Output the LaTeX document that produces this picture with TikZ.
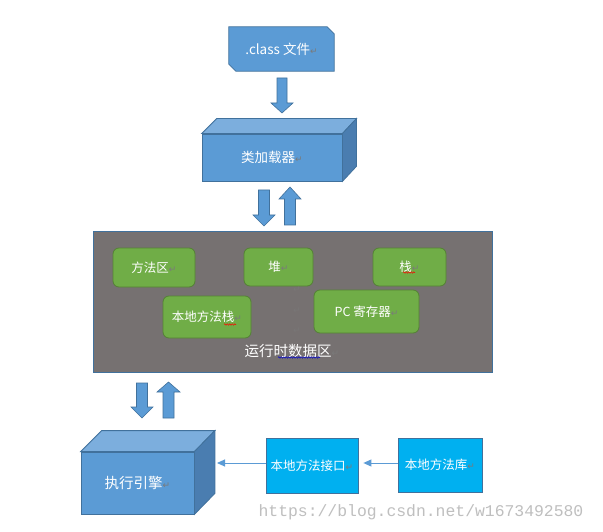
\documentclass[tikz,border=0pt]{standalone}
\usepackage{fontspec}
\newfontfamily\cjk{Noto Sans CJK SC}
\newfontfamily\dvs{DejaVu Sans}
\newfontfamily\wmfont{Liberation Mono}
\usetikzlibrary{decorations.pathmorphing,arrows.meta,calc}
\definecolor{bfill}{HTML}{5B9BD5}
\definecolor{bstroke}{HTML}{41719C}
\definecolor{btop}{HTML}{7CAEDD}
\definecolor{bside}{HTML}{4A7DB0}
\definecolor{rtgray}{HTML}{767171}
\definecolor{gfill}{HTML}{70AD47}
\definecolor{gstroke}{HTML}{548235}
\definecolor{cfill}{HTML}{00B0F0}
\definecolor{retgray}{HTML}{7A7A7A}
\newcommand{\rmk}{{\dvs\fontsize{9}{9}\selectfont\textcolor{retgray}{\char"21B5}}}
\newcommand{\barrow}[6]{\filldraw[barrowstyle] (#1-#5,#2) -- (#1+#5,#2) -- (#1+#5,#3) -- (#1+#6,#3) -- (#1,#4) -- (#1-#6,#3) -- (#1-#5,#3) -- cycle;}
\tikzset{
  barrowstyle/.style={fill=bfill, draw=bstroke, line width=0.6pt},
  txt/.style={text=white, font=\cjk\fontsize{13.5}{13.5}\selectfont, inner sep=0pt},
  cubefront/.style={fill=bfill, draw=bstroke, line width=0.8pt, inner sep=0pt},
  cubetop/.style={fill=btop, draw=bstroke, line width=0.8pt},
  cubeside/.style={fill=bside, draw=bstroke, line width=0.8pt},
  greenbox/.style={fill=gfill, draw=gstroke, line width=0.8pt, rounded corners=6pt, inner sep=0pt, text=white, font=\cjk\fontsize{12.5}{12.5}\selectfont},
  cyanbox/.style={fill=cfill, draw=bstroke, line width=0.8pt, inner sep=0pt, text=white, font=\cjk\fontsize{12.5}{12.5}\selectfont},
  conn/.style={draw=bfill, line width=1pt, -{Triangle[length=8pt,width=7pt]}},
  squig/.style={decorate, decoration={snake, amplitude=0.7pt, segment length=2.5pt}, line width=0.5pt},
}
\begin{document}
\begin{tikzpicture}[x=1pt,y=-1pt]
\useasboundingbox (0,0) rectangle (603,532);
\fill[white] (0,0) rectangle (603,532);

% .class file
\node[minimum width=105pt, minimum height=44pt, inner sep=0pt] (cls) at (281.5,49) {};
\filldraw[fill=bfill, draw=bstroke, line width=0.8pt]
  (cls.north west) -- ($(cls.north east)+(-7,0)$) -- ($(cls.north east)+(0,7)$)
  -- (cls.south east) -- ($(cls.south west)+(7,0)$) -- ($(cls.south west)+(0,-7)$) -- cycle;
\node[txt] (clst) at (cls.center) {.class 文件\rmk};

\barrow{282}{78}{103}{113}{5}{11}

% class loader cuboid
\node[cubefront, minimum width=140pt, minimum height=47pt] (ld) at (272,157.5) {};
\filldraw[cubetop] (ld.north west) -- ($(ld.north west)+(15,-15)$) -- ($(ld.north east)+(14,-15)$) -- (ld.north east) -- cycle;
\filldraw[cubeside] (ld.north east) -- ($(ld.north east)+(14,-15)$) -- ($(ld.south east)+(14,-15)$) -- (ld.south east) -- cycle;
\node[txt] (ldt) at (ld.center) {类加载器\rmk};

\barrow{264}{190}{215}{226}{5.5}{11}
\barrow{290}{225}{199}{187}{5.5}{11}

% runtime data area
\node[fill=rtgray, draw=bstroke, line width=0.7pt, minimum width=399pt, minimum height=141pt, inner sep=0pt] (rt) at (292.5,301.5) {};
\node[greenbox, minimum width=82pt, minimum height=39pt] (ma) at (154,267.5) {方法区\rmk};
\node[greenbox, minimum width=69pt, minimum height=38pt] (heap) at (278.5,267) {堆\rmk};
\node[greenbox, minimum width=73pt, minimum height=38pt] (stk) at (409.5,267) {栈\rmk};
\node[greenbox, minimum width=88pt, minimum height=42pt] (nms) at (207,317) {本地方法栈\rmk};
\node[greenbox, minimum width=105pt, minimum height=43pt] (pc) at (366.5,311.5) {PC 寄存器\rmk};
\node[txt, font=\cjk\fontsize{14.5}{14.5}\selectfont] (rtl) at (292,351) {运行时数据区\rmk};
\node[inner sep=0pt, opacity=0.6] (r1) at (297,290) {\rmk};
\node[inner sep=0pt, opacity=0.6] (r2) at (297,311) {\rmk};
\node[inner sep=0pt, opacity=0.6] (r3) at (297,331) {\rmk};
\draw[squig, red] (403,272.5) -- (415,272.5);
\draw[squig, red] (224,324.5) -- (236,324.5);
\draw[squig, blue!80!black] (278,357.5) -- (320,357.5);

\barrow{142}{383}{407}{418}{5.5}{11}
\barrow{168.5}{418}{392}{382}{5.5}{11.5}

% execution engine cuboid
\node[cubefront, minimum width=113pt, minimum height=62pt] (ex) at (137.5,483) {};
\filldraw[cubetop] (ex.north west) -- ($(ex.north west)+(21,-21)$) -- ($(ex.north east)+(20.5,-21)$) -- (ex.north east) -- cycle;
\filldraw[cubeside] (ex.north east) -- ($(ex.north east)+(20.5,-21)$) -- ($(ex.south east)+(20.5,-21)$) -- (ex.south east) -- cycle;
\node[txt, font=\cjk\fontsize{14.5}{14.5}\selectfont] (ext) at (ex.center) {执行引擎\rmk};

% native interface and library
\node[cyanbox, minimum width=92pt, minimum height=55pt] (nif) at (312,465.5) {本地方法接口\rmk};
\node[cyanbox, minimum width=84pt, minimum height=54pt] (nlib) at (440,465) {本地方法库\rmk};
\coordinate (ea) at (217,463);
\draw[conn] (nif.west |- ea) -- (ea);
\draw[conn, shorten >=5pt] (nlib.west |- ea) -- (nif.east |- ea);

% watermark
\node[inner sep=0pt, text=gray!50, font=\wmfont\fontsize{16.4}{16.4}\selectfont] (wm) at (421,512) {https://blog.csdn.net/w1673492580};
\end{tikzpicture}
\end{document}
